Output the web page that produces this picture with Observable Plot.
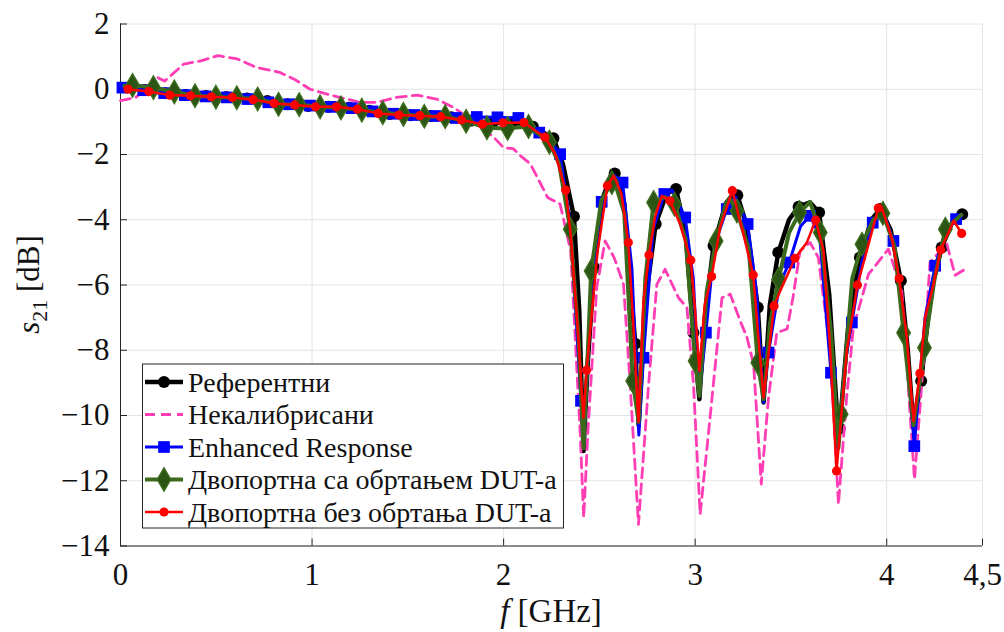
<!DOCTYPE html>
<html><head><meta charset="utf-8">
<script src="https://cdn.jsdelivr.net/npm/d3@7"></script>
<script src="https://cdn.jsdelivr.net/npm/@observablehq/plot@0.6"></script>
<style>body{margin:0;background:#fff}#chart{position:relative;width:1004px;height:632px}
#chart svg text{font-family:"Liberation Serif","Times New Roman",serif}</style>
</head><body><div id="chart"></div>
<script>
// ---- axis ticks ----
const xTicks = [0, 1, 2, 3, 4, 4.5];
const yTicks = [-14, -12, -10, -8, -6, -4, -2, 0, 2];
const seriesNames = ["Референтни", "Некалибрисани", "Enhanced Response", "Двопортна са обртањем DUT-a", "Двопортна без обртања DUT-a"];

// ---- Референтни (black) ----
const refMkF = [0.126,0.233,0.339,0.446,0.553,0.660,0.766,0.873,0.980,1.086,1.193,1.300,1.406,1.513,1.620,1.727,1.833,1.940,2.047,2.153,2.260,2.367,2.473,2.580,2.687,2.794,2.900,2.991,3.096,3.220,3.327,3.434,3.540,3.647,3.754,3.860,3.967,4.074,4.180,4.287,4.394];
const refMkDb = [-0.02,-0.12,-0.18,-0.21,-0.24,-0.28,-0.36,-0.46,-0.51,-0.54,-0.57,-0.66,-0.76,-0.80,-0.82,-0.86,-0.96,-1.04,-1.00,-1.15,-1.50,-3.90,-5.47,-2.58,-7.80,-4.13,-3.06,-7.46,-4.80,-3.25,-6.69,-5.00,-3.60,-3.78,-10.40,-5.16,-3.67,-5.87,-8.94,-4.85,-3.83];
const refExF = [0.02,2.31,2.395,2.417,2.44,2.52,2.565,2.63,2.705,2.74,2.85,2.95,3.022,3.05,3.16,3.2,3.27,3.357,3.39,3.49,3.6,3.7,3.748,3.8,3.92,4.02,4.11,4.14,4.23,4.34];
const refExDb = [0.05,-2.3,-6.8,-11.09,-8.3,-3.3,-2.55,-3.5,-10.3,-6.5,-3.2,-4.4,-9.5,-7.0,-3.5,-3.2,-4.2,-9.6,-6.6,-4.0,-3.47,-6.3,-10.6,-7.2,-4.0,-4.3,-8.0,-10.37,-6.2,-4.1];

// ---- Некалибрисани (pink dashed) ----
const uncalF = [0.0,0.08,0.15,0.18,0.23,0.33,0.42,0.51,0.61,0.71,0.83,0.91,0.99,1.11,1.25,1.34,1.44,1.55,1.65,1.74,1.86,1.95,2.0,2.05,2.09,2.14,2.23,2.295,2.35,2.4,2.418,2.44,2.486,2.53,2.577,2.626,2.66,2.704,2.757,2.8,2.843,2.913,2.957,2.991,3.026,3.078,3.14,3.183,3.235,3.27,3.305,3.345,3.383,3.426,3.48,3.51,3.548,3.6,3.643,3.705,3.748,3.79,3.826,3.905,4.009,4.079,4.145,4.19,4.226,4.314,4.357,4.4];
const uncalDb = [-0.35,-0.25,0.1,0.4,0.25,0.77,0.87,1.03,0.93,0.67,0.52,0.3,0.0,-0.2,-0.4,-0.4,-0.25,-0.18,-0.3,-0.56,-1.07,-1.48,-1.79,-1.82,-2.05,-2.29,-3.32,-3.52,-4.95,-10.57,-13.13,-10.5,-6.08,-4.65,-5.16,-5.98,-9.0,-13.34,-9.04,-5.98,-5.52,-6.39,-6.69,-9.04,-13.03,-10.05,-6.39,-6.28,-7.1,-7.6,-8.43,-12.1,-9.45,-7.46,-7.35,-6.4,-4.95,-4.7,-5.16,-8.0,-12.72,-9.5,-7.3,-5.67,-4.9,-6.18,-11.96,-8.5,-5.3,-4.75,-5.7,-5.55];

// ---- Enhanced Response (blue) ----
const erMkF = [0.010,0.119,0.228,0.336,0.445,0.554,0.663,0.772,0.880,0.989,1.098,1.207,1.316,1.424,1.533,1.642,1.751,1.860,1.968,2.077,2.186,2.295,2.404,2.512,2.621,2.730,2.839,2.948,3.056,3.165,3.274,3.383,3.491,3.600,3.709,3.818,3.927,4.035,4.144,4.253,4.362];
const erMkDb = [0.05,-0.03,-0.12,-0.18,-0.22,-0.25,-0.30,-0.40,-0.46,-0.50,-0.54,-0.58,-0.68,-0.75,-0.79,-0.82,-0.88,-0.85,-0.86,-0.88,-1.33,-1.99,-9.55,-3.45,-2.86,-8.23,-3.21,-3.93,-7.46,-3.67,-4.13,-8.07,-5.31,-3.88,-8.69,-7.15,-4.09,-4.65,-10.94,-5.41,-3.98];
const erExF = [2.24,2.35,2.418,2.46,2.57,2.67,2.706,2.78,2.88,2.99,3.022,3.1,3.21,3.32,3.357,3.44,3.55,3.65,3.745,3.78,3.87,3.98,4.09,4.2,4.31,4.39];
const erExDb = [-1.55,-4.2,-10.9,-6.0,-2.6,-5.5,-10.6,-4.3,-3.1,-5.8,-9.4,-4.8,-3.3,-6.2,-9.6,-6.0,-4.2,-4.5,-11.0,-8.5,-5.3,-3.7,-7.0,-7.0,-4.3,-3.9];

// ---- Двопортна са обртањем DUT-a (green) ----
const flipMkF = [0.063,0.172,0.281,0.389,0.498,0.607,0.716,0.825,0.933,1.042,1.151,1.260,1.369,1.477,1.586,1.695,1.804,1.913,2.021,2.130,2.239,2.348,2.457,2.565,2.674,2.783,2.892,3.000,3.109,3.218,3.327,3.436,3.545,3.653,3.762,3.871,3.980,4.088,4.197,4.306];
const flipMkDb = [0.12,0.05,-0.08,-0.20,-0.24,-0.26,-0.30,-0.46,-0.47,-0.54,-0.57,-0.64,-0.72,-0.77,-0.83,-0.84,-0.98,-1.18,-1.20,-1.14,-1.62,-4.29,-5.57,-2.86,-8.94,-3.47,-3.52,-8.33,-4.65,-3.73,-8.38,-5.82,-3.78,-4.39,-9.96,-4.75,-3.80,-7.46,-7.92,-4.29];
const flipExF = [0.02,2.29,2.39,2.417,2.44,2.51,2.575,2.63,2.705,2.74,2.84,2.95,3.022,3.06,3.16,3.18,3.28,3.357,3.39,3.49,3.6,3.71,3.748,3.82,3.93,4.04,4.14,4.25,4.39];
const flipExDb = [0.1,-2.3,-7.5,-11.0,-8.0,-3.4,-2.75,-3.8,-10.2,-5.8,-3.3,-4.6,-9.4,-6.2,-3.5,-3.35,-4.9,-9.5,-7.2,-4.4,-3.45,-7.5,-11.0,-5.8,-4.0,-4.8,-10.3,-5.8,-3.85];

// ---- Двопортна без обртања DUT-a (red) ----
const noflipMkF = [0.039,0.148,0.257,0.365,0.474,0.583,0.692,0.801,0.909,1.018,1.127,1.236,1.345,1.453,1.562,1.671,1.780,1.889,1.997,2.106,2.215,2.324,2.433,2.542,2.651,2.759,2.868,2.977,3.086,3.194,3.303,3.412,3.521,3.629,3.738,3.847,3.956,4.065,4.173,4.282,4.391];
const noflipMkDb = [0.0,-0.07,-0.18,-0.20,-0.23,-0.25,-0.32,-0.43,-0.48,-0.54,-0.54,-0.61,-0.74,-0.79,-0.81,-0.84,-0.94,-1.07,-1.03,-1.02,-1.47,-3.09,-8.61,-2.96,-4.70,-5.08,-3.42,-5.24,-5.74,-3.11,-5.69,-6.64,-5.18,-4.01,-11.70,-6.00,-3.64,-5.80,-8.71,-4.92,-4.42];
const noflipExF = [2.27,2.35,2.383,2.417,2.49,2.575,2.615,2.675,2.704,2.73,2.79,2.826,2.922,3.0,3.022,3.05,3.13,3.25,3.33,3.357,3.444,3.583,3.67,3.705,3.792,3.896,3.974,4.026,4.105,4.14,4.2,4.244,4.35];
const noflipExDb = [-1.99,-4.44,-7.0,-10.07,-5.0,-2.65,-3.2,-7.0,-10.2,-6.5,-3.93,-3.27,-4.14,-6.8,-8.63,-6.6,-4.24,-4.4,-7.61,-9.45,-6.18,-4.7,-4.95,-8.02,-8.02,-4.95,-3.62,-4.55,-7.61,-10.17,-7.0,-5.98,-4.03];

// ---- build tables ----
function build(mkF, mkDb, exF, exDb) {
  const mk = mkF.map((f, i) => ({f, db: mkDb[i]}));
  const ex = exF.map((f, i) => ({f, db: exDb[i]}));
  return {mk, line: [...mk, ...ex].sort((a, b) => a.f - b.f)};
}
const ref = build(refMkF, refMkDb, refExF, refExDb);
const uncal = uncalF.map((f, i) => ({f, db: uncalDb[i]}));
const er = build(erMkF, erMkDb, erExF, erExDb);
const flip = build(flipMkF, flipMkDb, flipExF, flipExDb);
const noflip = build(noflipMkF, noflipMkDb, noflipExF, noflipExDb);

const W = 1004, H = 632, mL = 120, mR = 22, mT = 23.5, mB = 86.5;
const plotW = W - mL - mR, plotH = H - mT - mB;
const C = {ref: "#000000", uncal: "#ff3db4", er: "#0000ff", flip: "#3a6a1c", flipFill: "#2b5514", noflip: "#ff0000"};
const axisColor = "#262626", gridColor = "#e4e4e4";
const fam = "Liberation Serif";
const minus = d => d < 0 ? "\u2212" + Math.abs(d) : String(d);

const plot = Plot.plot({
  width: W, height: H,
  marginLeft: mL, marginRight: mR, marginTop: mT, marginBottom: mB,
  style: {fontFamily: fam, fontSize: "31px", background: "#fff", overflow: "visible"},
  x: {domain: [0, 4.5]},
  y: {domain: [-14, 2]},
  marks: [
    Plot.gridX(xTicks, {stroke: gridColor, strokeOpacity: 1, strokeWidth: 1}),
    Plot.gridY(yTicks, {stroke: gridColor, strokeOpacity: 1, strokeWidth: 1}),
    Plot.ruleX(xTicks, {stroke: axisColor, insetTop: plotH - 7}),
    Plot.ruleY(yTicks, {stroke: axisColor, insetRight: plotW - 7}),
    Plot.ruleX([0], {stroke: axisColor}),
    Plot.ruleY([-14], {stroke: axisColor}),
    Plot.axisX({ticks: xTicks, tickSize: 0, tickPadding: 17, tickFormat: d => String(d).replace(".", ","), label: null, fill: "#111", fontFamily: fam, fontSize: 31}),
    Plot.axisY({ticks: yTicks, tickSize: 0, tickPadding: 11, tickFormat: minus, label: null, fill: "#111", fontFamily: fam, fontSize: 31}),
    Plot.line(ref.line, {x: "f", y: "db", stroke: C.ref, strokeWidth: 4.5}),
    Plot.dot(ref.mk, {x: "f", y: "db", r: 6, fill: C.ref}),
    Plot.line(uncal, {x: "f", y: "db", stroke: C.uncal, strokeWidth: 2.8, strokeDasharray: "10,6"}),
    Plot.line(er.line, {x: "f", y: "db", stroke: C.er, strokeWidth: 3}),
    Plot.dot(er.mk, {x: "f", y: "db", r: 6.6, symbol: "square", fill: C.er}),
    Plot.line(flip.line, {x: "f", y: "db", stroke: C.flip, strokeWidth: 4}),
    Plot.dot(flip.mk, {x: "f", y: "db", r: 7, symbol: "diamond", fill: C.flipFill, stroke: C.flip, strokeWidth: 1.5}),
    Plot.line(noflip.line, {x: "f", y: "db", stroke: C.noflip, strokeWidth: 2.5}),
    Plot.dot(noflip.mk, {x: "f", y: "db", r: 4.6, fill: C.noflip})
  ]
});
document.getElementById("chart").appendChild(plot);

const svg = d3.select(plot);
// x label
const xl = svg.append("text").attr("x", mL + plotW / 2).attr("y", 622).attr("text-anchor", "middle")
  .attr("font-family", fam).attr("font-size", 33).attr("fill", "#111");
xl.append("tspan").attr("font-style", "italic").text("f");
xl.append("tspan").text(" [GHz]");
// y label
const yl = svg.append("text").attr("transform", `translate(39,${mT + plotH / 2}) rotate(-90)`).attr("text-anchor", "middle")
  .attr("font-family", fam).attr("font-size", 31).attr("fill", "#111");
yl.append("tspan").attr("font-style", "italic").text("s");
yl.append("tspan").attr("font-size", 22).attr("dy", 8).text("21");
yl.append("tspan").attr("dy", -8).text(" [dB]");

// legend
const lg = svg.append("g").attr("transform", `translate(${mL + 22},${H - mB - 182})`);
lg.append("rect").attr("x", 0.5).attr("y", 0.5).attr("width", 421).attr("height", 164).attr("fill", "#fff").attr("stroke", axisColor).attr("stroke-width", 1);
const rowY = i => 18.5 + i * 32.5;
const styles = [
  {stroke: C.ref, w: 4.5, sym: d3.symbolCircle, r: 6, fill: C.ref},
  {stroke: C.uncal, w: 2.8, dash: "10,6"},
  {stroke: C.er, w: 3, sym: d3.symbolSquare, r: 6.6, fill: C.er},
  {stroke: C.flip, w: 4, sym: d3.symbolDiamond, r: 7, fill: C.flipFill, ms: C.flip},
  {stroke: C.noflip, w: 2.5, sym: d3.symbolCircle, r: 4.6, fill: C.noflip}
];
seriesNames.forEach((name, i) => {
  const s = styles[i], y = rowY(i);
  lg.append("line").attr("x1", 3).attr("x2", 41).attr("y1", y).attr("y2", y)
    .attr("stroke", s.stroke).attr("stroke-width", s.w).attr("stroke-dasharray", s.dash || null);
  if (s.sym) lg.append("path").attr("transform", `translate(22,${y})`)
    .attr("d", d3.symbol(s.sym, Math.PI * s.r * s.r)()).attr("fill", s.fill)
    .attr("stroke", s.ms || "none").attr("stroke-width", s.ms ? 1.5 : 0);
  lg.append("text").attr("x", 46).attr("y", y).attr("dy", "0.35em").attr("text-anchor", "start")
    .attr("font-family", fam).attr("font-size", 28).attr("fill", "#111").text(name);
});
</script></body></html>
